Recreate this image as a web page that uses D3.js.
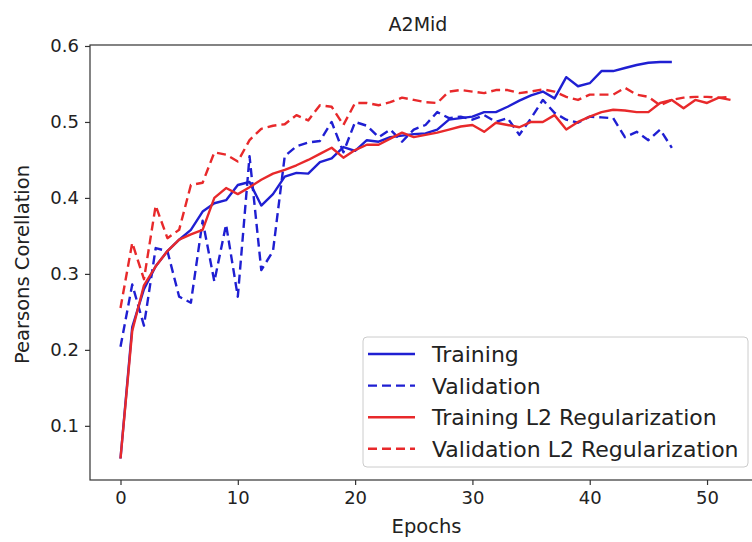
<!DOCTYPE html>
<html>
<head>
<meta charset="utf-8">
<script src="https://cdn.jsdelivr.net/npm/d3@7"></script>
<style>
	body { margin: 0; background: #fff; }
	text { font-family: "DejaVu Sans", sans-serif; fill: #222; }
	.axis path, .axis line { stroke: #333; stroke-width: 1.2; }
	.axis text { font-size: 18px; }
</style>
</head>
<body>
<script>

//Values, one array per series
let training = [0.057, 0.23, 0.28, 0.31, 0.33, 0.345, 0.358, 0.382, 0.393, 0.397, 0.417, 0.421, 0.39, 0.405, 0.428, 0.433, 0.432, 0.447, 0.452, 0.467, 0.462, 0.476, 0.474, 0.48, 0.482, 0.484, 0.485, 0.49, 0.503, 0.505, 0.507, 0.513, 0.513, 0.52, 0.528, 0.535, 0.54, 0.531, 0.559, 0.547, 0.551, 0.567, 0.567, 0.571, 0.575, 0.578, 0.579, 0.579];
let validation = [0.204, 0.286, 0.232, 0.334, 0.33, 0.27, 0.262, 0.37, 0.29, 0.365, 0.27, 0.455, 0.305, 0.33, 0.455, 0.468, 0.473, 0.475, 0.5, 0.46, 0.5, 0.495, 0.48, 0.49, 0.474, 0.49, 0.496, 0.513, 0.505, 0.507, 0.503, 0.509, 0.5, 0.505, 0.483, 0.505, 0.529, 0.512, 0.503, 0.499, 0.507, 0.506, 0.505, 0.48, 0.487, 0.476, 0.49, 0.466];
let trainingL2 = [0.057, 0.225, 0.285, 0.31, 0.33, 0.345, 0.352, 0.358, 0.4, 0.413, 0.405, 0.414, 0.424, 0.432, 0.437, 0.443, 0.45, 0.458, 0.466, 0.453, 0.463, 0.47, 0.47, 0.478, 0.486, 0.48, 0.483, 0.486, 0.49, 0.494, 0.496, 0.487, 0.499, 0.496, 0.493, 0.5, 0.5, 0.509, 0.49, 0.5, 0.507, 0.513, 0.516, 0.515, 0.513, 0.513, 0.525, 0.529, 0.518, 0.529, 0.525, 0.532, 0.529];
let validationL2 = [0.255, 0.341, 0.293, 0.39, 0.347, 0.358, 0.417, 0.42, 0.46, 0.457, 0.448, 0.476, 0.491, 0.495, 0.497, 0.509, 0.502, 0.522, 0.52, 0.496, 0.525, 0.525, 0.522, 0.526, 0.532, 0.529, 0.526, 0.525, 0.54, 0.542, 0.54, 0.538, 0.542, 0.542, 0.538, 0.54, 0.543, 0.54, 0.533, 0.529, 0.536, 0.536, 0.536, 0.545, 0.536, 0.533, 0.522, 0.529, 0.532, 0.533, 0.533, 0.532, 0.533];

let xTicks = [0, 10, 20, 30, 40, 50];
let yTicks = [0.1, 0.2, 0.3, 0.4, 0.5, 0.6];

let seriesNames = ["Training", "Validation", "Training L2 Regularization", "Validation L2 Regularization"];
let seriesColors = ["#1f1fd2", "#1f1fd2", "#e8292b", "#e8292b"];
let seriesDashed = [false, true, false, true];

window.onload = drawChart();

function drawChart(){

	let width = 752;
	let height = 542;

	let svg = d3.select("body")
		.append("svg")
		.attr("width", width)
		.attr("height", height);

	//Plot frame, right side runs past the picture edge
	let left = 90, right = 761, top = 45, bottom = 480;

	let x = d3.scaleLinear()
		.domain([-2.6, 54.6])
		.range([left, right]);

	let y = d3.scaleLinear()
		.domain([0.0287, 0.6013])
		.range([bottom, top]);

	//Frame
	svg.append("rect")
		.attr("x", left)
		.attr("y", top)
		.attr("width", right - left)
		.attr("height", bottom - top)
		.attr("fill", "none")
		.attr("stroke", "#333")
		.attr("stroke-width", 1.2);

	//Axes
	svg.append("g")
		.attr("class", "axis")
		.attr("transform", "translate(0," + bottom + ")")
		.call(d3.axisBottom(x).tickValues(xTicks).tickSize(5).tickPadding(6))
		.call(g => g.select(".domain").remove());

	svg.append("g")
		.attr("class", "axis")
		.attr("transform", "translate(" + left + ",0)")
		.call(d3.axisLeft(y).tickValues(yTicks).tickSize(5).tickPadding(6).tickFormat(d3.format(".1f")))
		.call(g => g.select(".domain").remove());

	//Series lines
	let allSeries = [training, validation, trainingL2, validationL2];

	let line = d3.line()
		.x((d, i) => x(i))
		.y(d => y(d));

	allSeries.forEach(function(values, k){
		svg.append("path")
			.datum(values)
			.attr("fill", "none")
			.attr("stroke", seriesColors[k])
			.attr("stroke-width", 2.4)
			.attr("stroke-linejoin", "round")
			.attr("stroke-dasharray", seriesDashed[k] ? "9,5" : null)
			.attr("d", line);
	});

	//Title and labels
	svg.append("text")
		.attr("x", 418)
		.attr("y", 31)
		.attr("text-anchor", "middle")
		.style("font-size", "19px")
		.text("A2Mid");

	svg.append("text")
		.attr("x", (left + right) / 2 + 1)
		.attr("y", 533)
		.attr("text-anchor", "middle")
		.style("font-size", "19.5px")
		.text("Epochs");

	svg.append("text")
		.attr("transform", "translate(29," + ((top + bottom) / 2 + 2) + ") rotate(-90)")
		.attr("text-anchor", "middle")
		.style("font-size", "19.5px")
		.text("Pearsons Corellation");

	//Legend
	let legend = svg.append("g");

	legend.append("rect")
		.attr("x", 363)
		.attr("y", 337)
		.attr("width", 385)
		.attr("height", 130)
		.attr("rx", 4)
		.attr("fill", "#fff")
		.attr("fill-opacity", 0.8)
		.attr("stroke", "#ccc");

	seriesNames.forEach(function(name, k){
		let cy = 354 + k * 31.6;
		legend.append("line")
			.attr("x1", 368)
			.attr("x2", 415)
			.attr("y1", cy)
			.attr("y2", cy)
			.attr("stroke", seriesColors[k])
			.attr("stroke-width", 2.4)
			.attr("stroke-dasharray", seriesDashed[k] ? "9,5" : null);
		legend.append("text")
			.attr("x", 432)
			.attr("y", cy)
			.attr("dy", "0.36em")
			.style("font-size", "22px")
			.text(name);
	});
};
</script>
</body>
</html>
